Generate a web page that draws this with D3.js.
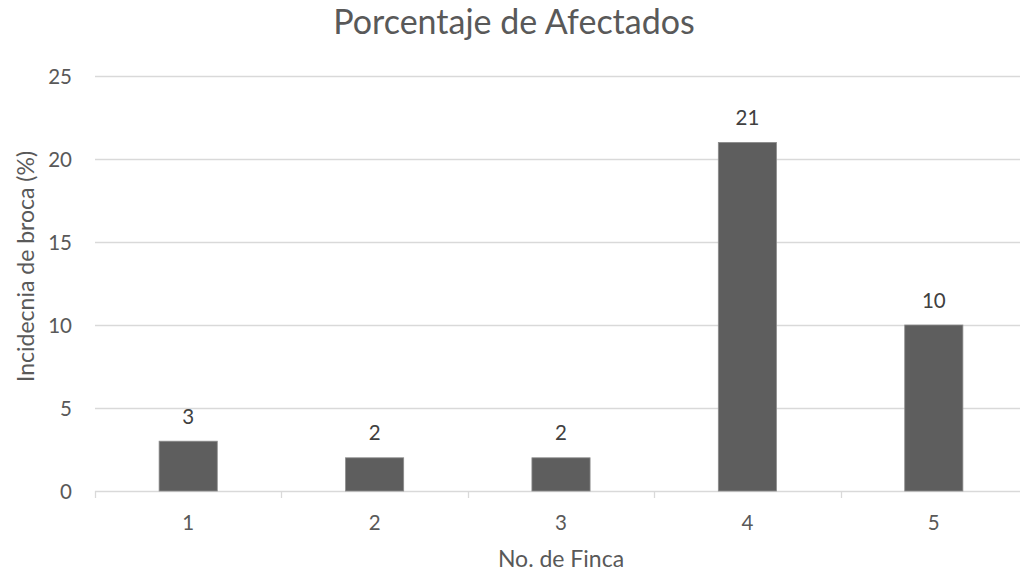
<!DOCTYPE html>
<html>
<head>
<meta charset="utf-8">
<script src="https://cdn.jsdelivr.net/npm/d3@7"></script>
<style>
  body { margin: 0; background: #fff; }
  text { font-family: Lato, "Open Sans", sans-serif; fill: #595959; }
</style>
</head>
<body>
<div id="chart"></div>
<script>
const fincas = ["1", "2", "3", "4", "5"];
const incidencia = [3, 2, 2, 21, 10];
const yTicks = [0, 5, 10, 15, 20, 25];

const fullWidth = 1020;
const fullHeight = 574;
const margin = { top: 76, left: 95, bottom: 83 };
const plotRight = 1027;
const height = fullHeight - margin.top - margin.bottom;

const svg = d3.select("#chart")
  .append("svg")
  .attr("width", fullWidth)
  .attr("height", fullHeight);

const x = d3.scaleBand()
  .domain(fincas)
  .range([margin.left, plotRight])
  .paddingInner(0.688)
  .paddingOuter(0.344);

const y = d3.scaleLinear()
  .domain([0, 25])
  .range([margin.top + height, margin.top]);

// gridlines
svg.append("g")
  .selectAll("line")
  .data(yTicks)
  .enter()
  .append("line")
  .attr("x1", margin.left)
  .attr("x2", plotRight)
  .attr("y1", (d) => Math.round(y(d)) + 0.5)
  .attr("y2", (d) => Math.round(y(d)) + 0.5)
  .attr("stroke", "#d9d9d9")
  .attr("stroke-width", 1.3);

// y tick labels
svg.append("g")
  .selectAll("text")
  .data(yTicks)
  .enter()
  .append("text")
  .attr("x", 72)
  .attr("y", (d) => y(d) + 7.5)
  .attr("text-anchor", "end")
  .style("font-size", "20.5px")
  .text((d) => d);

// x axis ticks (category boundaries)
const step = x.step();
const bounds = d3.range(fincas.length + 1).map((i) => margin.left + i * step);
svg.append("g")
  .selectAll("line")
  .data(bounds)
  .enter()
  .append("line")
  .attr("x1", (d) => Math.round(d) + 0.5)
  .attr("x2", (d) => Math.round(d) + 0.5)
  .attr("y1", y(0))
  .attr("y2", y(0) + 7)
  .attr("stroke", "#d9d9d9")
  .attr("stroke-width", 1.3);

// bars
svg.append("g")
  .selectAll("rect")
  .data(incidencia)
  .enter()
  .append("rect")
  .attr("x", (d, i) => x(fincas[i]))
  .attr("y", (d) => y(d))
  .attr("width", x.bandwidth())
  .attr("height", (d) => y(0) - y(d))
  .attr("fill", "#5e5e5e")
  .attr("stroke", "#8c8c8c")
  .attr("stroke-width", 0.8);

// data labels
svg.append("g")
  .selectAll("text")
  .data(incidencia)
  .enter()
  .append("text")
  .attr("x", (d, i) => x(fincas[i]) + x.bandwidth() / 2)
  .attr("y", (d) => y(d) - 17.5)
  .attr("text-anchor", "middle")
  .style("font-size", "20.5px")
  .style("fill", "#404040")
  .text((d) => d);

// x tick labels
svg.append("g")
  .selectAll("text")
  .data(fincas)
  .enter()
  .append("text")
  .attr("x", (d) => x(d) + x.bandwidth() / 2)
  .attr("y", 530)
  .attr("text-anchor", "middle")
  .style("font-size", "20.5px")
  .text((d) => d);

// title
svg.append("text")
  .attr("x", 514)
  .attr("y", 33.5)
  .attr("text-anchor", "middle")
  .style("font-size", "34px")
  .text("Porcentaje de Afectados");

// axis titles
svg.append("text")
  .attr("x", (margin.left + plotRight) / 2)
  .attr("y", 567)
  .attr("text-anchor", "middle")
  .style("font-size", "23px")
  .text("No. de Finca");

svg.append("text")
  .attr("transform", "translate(34, 266.5) rotate(-90)")
  .attr("text-anchor", "middle")
  .style("font-size", "23px")
  .text("Incidecnia de broca (%)");
</script>
</body>
</html>
